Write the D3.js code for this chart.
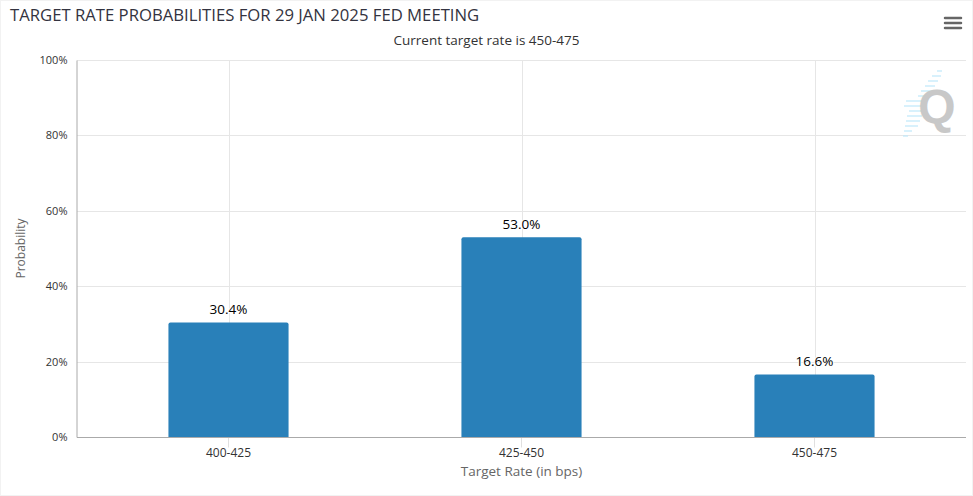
<!DOCTYPE html>
<html><head><meta charset="utf-8">
<script src="https://cdn.jsdelivr.net/npm/d3@7"></script>
<style>html,body{margin:0;padding:0;background:#fff;}svg{display:block;font-family:"Open Sans",sans-serif;}</style>
</head><body>
<svg id="c" width="973" height="496"></svg>
<script>
const categories = ["400-425", "425-450", "450-475"];
const probabilities = [30.4, 53.0, 16.6];
const yTicks = [0, 20, 40, 60, 80, 100];
const titleText = "TARGET RATE PROBABILITIES FOR 29 JAN 2025 FED MEETING";
const subtitleText = "Current target rate is 450-475";
const xTitle = "Target Rate (in bps)";
const yTitle = "Probability";

const svg = d3.select("#c");
const W = 973, H = 496;
const plot = {left: 77, right: 966, top: 60, bottom: 437};

svg.append("rect").attr("x",0.5).attr("y",0.5).attr("width",W-1).attr("height",H-1)
  .attr("fill","#fff").attr("stroke","#f2f2f2");

const x = d3.scaleBand().domain(categories).range([82, 961]).paddingInner(0.59).paddingOuter(0.295);
const y = d3.scaleLinear().domain([0, 100]).range([plot.bottom, plot.top]);

// horizontal grid
svg.append("g").selectAll("line").data(yTicks).join("line")
  .attr("x1", plot.left).attr("x2", plot.right)
  .attr("y1", d => Math.round(y(d)) + 0.5).attr("y2", d => Math.round(y(d)) + 0.5)
  .attr("stroke", "#e6e6e6");
// vertical grid at category centers
svg.append("g").selectAll("line").data(categories).join("line")
  .attr("x1", d => Math.round(x(d) + x.bandwidth()/2) + 0.5)
  .attr("x2", d => Math.round(x(d) + x.bandwidth()/2) + 0.5)
  .attr("y1", plot.top).attr("y2", plot.bottom)
  .attr("stroke", "#e6e6e6");

// bars
const r = 2;
svg.append("g").selectAll("path").data(categories).join("path")
  .attr("fill", "#2980b9")
  .attr("d", (d, i) => {
    const x0 = x(d), x1 = x(d) + x.bandwidth(), y0 = y(probabilities[i]), y1 = y(0);
    return `M${x0},${y1}V${y0 + r}Q${x0},${y0} ${x0 + r},${y0}H${x1 - r}Q${x1},${y0} ${x1},${y0 + r}V${y1}Z`;
  });

// data labels
svg.append("g").selectAll("text").data(categories).join("text")
  .attr("x", d => x(d) + x.bandwidth()/2)
  .attr("y", (d, i) => y(probabilities[i]) - 8.5)
  .attr("text-anchor", "middle")
  .attr("font-size", 13.5)
  .attr("fill", "#000")
  .attr("stroke", "#fff").attr("stroke-width", 2).attr("paint-order", "stroke")
  .text((d, i) => probabilities[i].toFixed(1) + "%");

// y axis
const yAxis = d3.axisLeft(y).tickValues(yTicks).tickFormat(d => d + "%").tickSize(0).tickPadding(9);
const gy = svg.append("g").attr("transform", `translate(${plot.left - 0.5},0)`).call(yAxis);
gy.select(".domain").attr("stroke", "#aaa");
gy.selectAll("text").attr("font-size", 11).attr("fill", "#333").attr("font-family", "Open Sans, sans-serif");

// x axis
const xAxis = d3.axisBottom(x).tickSize(10).tickPadding(1);
const gx = svg.append("g").attr("transform", `translate(0,${plot.bottom + 0.5})`).call(xAxis);
gx.select(".domain").remove();
gx.selectAll(".tick line").attr("stroke", "#e0e0e0");
gx.selectAll("text").attr("font-size", 12).attr("fill", "#333").attr("font-family", "Open Sans, sans-serif");
svg.append("line").attr("x1", plot.left).attr("x2", plot.right)
  .attr("y1", plot.bottom + 0.5).attr("y2", plot.bottom + 0.5).attr("stroke", "#aaa");

// titles
svg.append("text").attr("x", 10).attr("y", 21).attr("font-size", 16.7).attr("fill", "#333340").text(titleText);
svg.append("text").attr("x", W/2).attr("y", 45).attr("text-anchor", "middle").attr("font-size", 13.5).attr("fill", "#333").text(subtitleText);
svg.append("text").attr("x", (plot.left + plot.right)/2).attr("y", 476).attr("text-anchor", "middle").attr("font-size", 13.5).attr("fill", "#666").text(xTitle);
svg.append("text").attr("transform", `translate(25,${(plot.top + plot.bottom)/2}) rotate(-90)`).attr("text-anchor", "middle").attr("font-size", 12).attr("fill", "#666").text(yTitle);

// menu icon
svg.append("g").selectAll("line").data([18, 23, 28]).join("line")
  .attr("x1", 945).attr("x2", 961).attr("y1", d => d).attr("y2", d => d)
  .attr("stroke", "#666").attr("stroke-width", 2.5).attr("stroke-linecap", "round");

// watermark
const wm = svg.append("g").attr("opacity", 0.8);
const dashes = [[937,942,71],[932,941,76],[928,938,81],[925,935,86],[921,932,91],[918,930,96],[906,928,101],[904,926,106],[909,924,111],[907,922,116],[906,920,121],[905,918,126],[904,912,131],[903,908,136]];
wm.selectAll("line").data(dashes).join("line")
  .attr("x1", d => d[0]).attr("x2", d => d[1]).attr("y1", d => d[2]).attr("y2", d => d[2])
  .attr("stroke", "#bfe9fb").attr("stroke-width", 1.5);
svg.append("text").attr("x", 937).attr("y", 123).attr("text-anchor", "middle").attr("font-size", 48)
  .attr("font-weight", "bold").attr("fill", "#c8c8c8").attr("font-family", "Arial, Liberation Sans, sans-serif").text("Q");
</script>
</body></html>
